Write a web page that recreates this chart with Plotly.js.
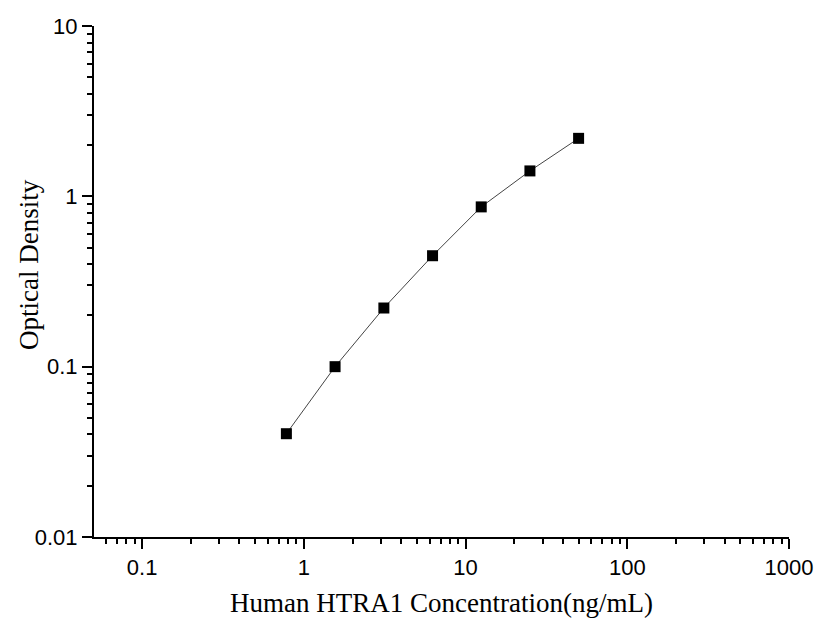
<!DOCTYPE html>
<html>
<head>
<meta charset="utf-8">
<script src="https://cdn.plot.ly/plotly-3.0.1.min.js"></script>
<style>html,body{margin:0;padding:0;background:#fff;}#chart{width:829px;height:633px;}</style>
</head>
<body>
<div id="chart"></div>
<script>
var concentration = [0.78, 1.56, 3.125, 6.25, 12.5, 25, 50];
var opticalDensity = [0.0404, 0.100, 0.221, 0.448, 0.867, 1.41, 2.19];
var xTickVals = [0.1, 1, 10, 100, 1000];
var xTickText = ['0.1', '1', '10', '100', '1000'];
var yTickVals = [0.01, 0.1, 1, 10];
var yTickText = ['0.01', '0.1', '1', '10'];
var xTitle = 'Human HTRA1 Concentration(ng/mL)';
var yTitle = 'Optical Density';

var trace = {
  x: concentration,
  y: opticalDensity,
  type: 'scatter',
  mode: 'lines+markers',
  line: {color: '#444', width: 1},
  marker: {symbol: 'square', size: 11, color: '#000'},
  cliponaxis: false
};

var axisCommon = {
  type: 'log',
  showgrid: false,
  zeroline: false,
  showline: true,
  linecolor: '#000',
  linewidth: 2,
  ticks: 'outside',
  ticklen: 10,
  tickwidth: 2,
  tickcolor: '#000',
  tickfont: {family: 'Liberation Sans, Arial, sans-serif', size: 22, color: '#000'},
  minor: {ticks: 'outside', ticklen: 5, tickwidth: 2, tickcolor: '#000', dtick: 'D1', showgrid: false}
};

var layout = {
  width: 829,
  height: 633,
  margin: {l: 94, r: 40, t: 26, b: 96},
  paper_bgcolor: '#fff',
  plot_bgcolor: '#fff',
  showlegend: false,
  xaxis: Object.assign({}, axisCommon, {
    range: [Math.log10(0.0504), 3],
    tickvals: xTickVals,
    ticktext: xTickText,
    title: {text: xTitle, font: {family: 'Liberation Serif, Times New Roman, serif', size: 27, color: '#000'}, standoff: 14}
  }),
  yaxis: Object.assign({}, axisCommon, {
    range: [-2, 1],
    tickvals: yTickVals,
    ticktext: yTickText
  }),
  annotations: [{
    text: yTitle,
    xref: 'paper', yref: 'paper',
    x: (29 - 94) / 695, y: (537 - 265) / 511,
    xanchor: 'center', yanchor: 'middle',
    textangle: -90,
    showarrow: false,
    font: {family: 'Liberation Serif, Times New Roman, serif', size: 27, color: '#000'}
  }]
};

Plotly.newPlot('chart', [trace], layout, {displayModeBar: false, staticPlot: true});
</script>
</body>
</html>
